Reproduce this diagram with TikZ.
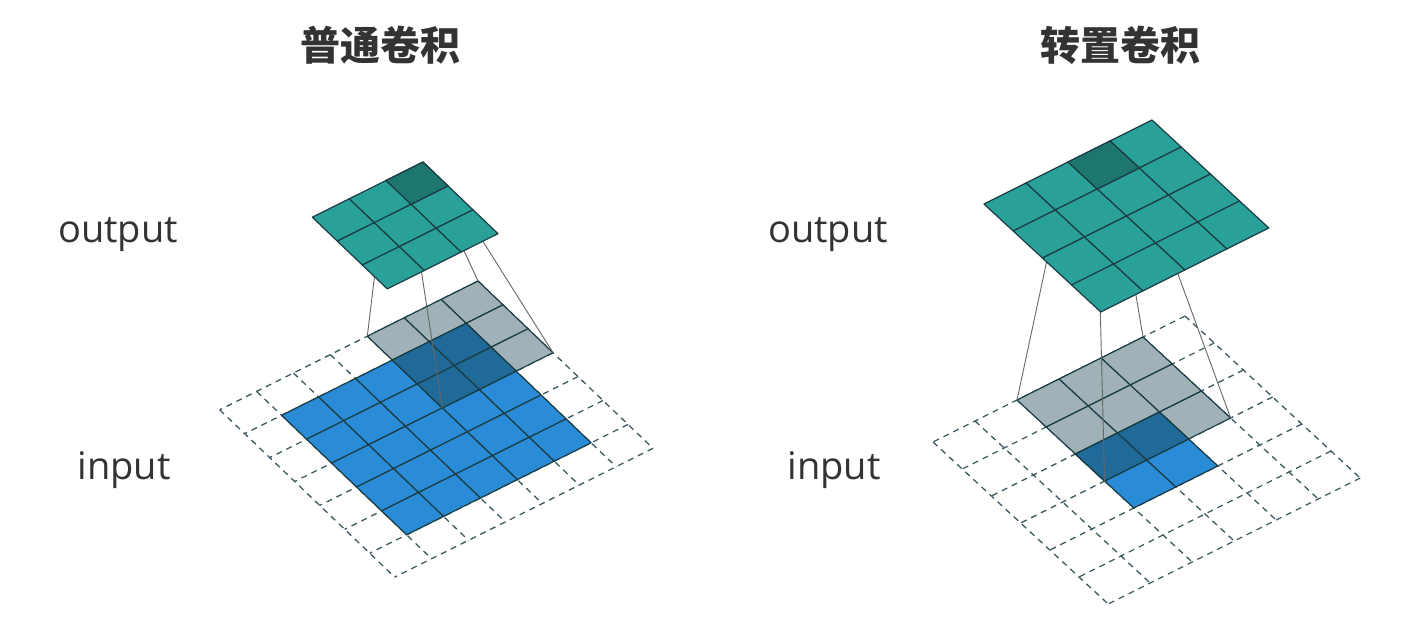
\documentclass[tikz,border=0pt]{standalone}
\usepackage{fontspec}
\newfontfamily\cjk{Noto Sans CJK SC}
\setsansfont{Open Sans}
\begin{document}
\begin{tikzpicture}[x=1pt,y=-1pt,
  cellb/.style={draw=edgec,line width=1.2pt,line join=round},
  dgrid/.style={draw=edgec!85,line width=1.3pt,dash pattern=on 6pt off 5pt},
  link/.style={draw=gray!80!black,line width=0.9pt},
  lbl/.style={font=\sffamily\fontsize{38}{40}\selectfont,text=txtc},
  ttl/.style={font=\cjk\bfseries\fontsize{40}{44}\selectfont,text=txtc}]
\definecolor{edgec}{HTML}{1A3D44}
\definecolor{blu}{HTML}{2A8BD6}
\definecolor{dblu}{HTML}{1F6A99}
\definecolor{gry}{HTML}{A0B2B8}
\definecolor{tea}{HTML}{2AA198}
\definecolor{dtea}{HTML}{1E7670}
\definecolor{txtc}{HTML}{333333}
\useasboundingbox (0,0) rectangle (1416,622);
\fill[white] (0,0) rectangle (1416,622);
\newcommand{\cell}[3]{\path[cellb,fill=#3] (#1,#2)--++(1,0)--++(0,1)--++(-1,0)--cycle;}
% titles and labels
\node[ttl] (t1) at (380,45) {普通卷积};
\node[ttl] (t2) at (1120,45) {转置卷积};
\node[lbl] (o1) at (118,235) {output};
\node[lbl] (i1) at (124,470) {input};
\node[lbl] (o2) at (828,235) {output};
\node[lbl] (i2) at (834,470) {input};
% ---------- left ----------
\begin{scope}[shift={(478,281)},x={(-36.9pt,-18.4pt)},y={(25pt,-23.9pt)}]
  \foreach \k in {0,...,7}{\path[dgrid] (\k,0)--(\k,7); \path[dgrid] (0,\k)--(7,\k);}
  \foreach \p in {1,...,5}{\foreach \q in {1,...,5}{\cell{\p}{\q}{blu}}}
  \foreach \p in {0,1,2}{\foreach \q in {0,1,2}{\cell{\p}{\q}{gry}}}
  \foreach \p in {1,2}{\foreach \q in {1,2}{\cell{\p}{\q}{dblu}}}
  \coordinate (kt1) at (0,0); \coordinate (kl1) at (3,0);
  \coordinate (kb1) at (3,3); \coordinate (kr1) at (0,3);
\end{scope}
\begin{scope}[shift={(423,162)},x={(-36.9pt,-18.4pt)},y={(25pt,-23.9pt)}]
  \coordinate (ot1) at (0,0); \coordinate (ol1) at (1,0);
  \coordinate (ob1) at (1,1); \coordinate (or1) at (0,1);
\end{scope}
\draw[link] (kt1)--(ot1) (kl1)--(ol1) (kb1)--(ob1) (kr1)--(or1);
\begin{scope}[shift={(423,162)},x={(-36.9pt,-18.4pt)},y={(25pt,-23.9pt)}]
  \foreach \p in {0,1,2}{\foreach \q in {0,1,2}{\cell{\p}{\q}{tea}}}
  \cell{0}{0}{dtea}
\end{scope}
% ---------- right ----------
\begin{scope}[shift={(1185,316)},x={(-42pt,-21pt)},y={(29.2pt,-27pt)}]
  \foreach \k in {0,...,6}{\path[dgrid] (\k,0)--(\k,6); \path[dgrid] (0,\k)--(6,\k);}
  \foreach \p in {2,3}{\foreach \q in {2,3}{\cell{\p}{\q}{blu}}}
  \foreach \p in {1,2,3}{\foreach \q in {0,1,2}{\cell{\p}{\q}{gry}}}
  \foreach \p in {2,3}{\cell{\p}{2}{dblu}}
  \coordinate (kt2) at (1,0); \coordinate (kl2) at (4,0);
  \coordinate (kb2) at (4,3); \coordinate (kr2) at (1,3);
\end{scope}
\begin{scope}[shift={(1152,120)},x={(-42pt,-21pt)},y={(29.2pt,-27pt)}]
  \coordinate (ot2) at (1,0); \coordinate (ol2) at (2,0);
  \coordinate (ob2) at (2,1); \coordinate (or2) at (1,1);
\end{scope}
\draw[link] (kt2)--(ot2) (kl2)--(ol2) (kb2)--(ob2) (kr2)--(or2);
\begin{scope}[shift={(1152,120)},x={(-42pt,-21pt)},y={(29.2pt,-27pt)}]
  \foreach \p in {0,...,3}{\foreach \q in {0,...,3}{\cell{\p}{\q}{tea}}}
  \cell{1}{0}{dtea}
\end{scope}
\end{tikzpicture}
\end{document}
